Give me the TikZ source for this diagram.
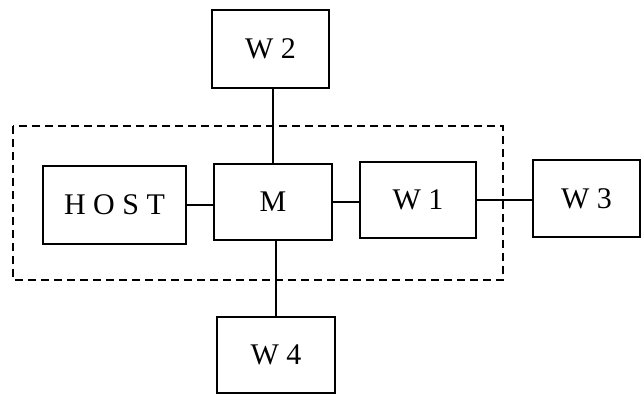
\documentclass[tikz,border=0pt]{standalone}
\usepackage{fontspec}
\setmainfont{Liberation Serif}
\begin{document}
\begin{tikzpicture}[x=1pt,y=-1pt,
  box/.style={draw, line width=1.6pt, inner sep=0pt, font=\fontsize{30}{34}\selectfont},
  link/.style={line width=1.3pt},
  group/.style={draw, line width=1.6pt, dash pattern=on 8pt off 5pt}]
\useasboundingbox (0,0) rectangle (642,395);
\draw[group] (13,126) rectangle (503,280);
\node[box, minimum width=117pt, minimum height=78pt] (W2) at (270.5,49) {W 2};
\node[box, minimum width=143pt, minimum height=78pt] (HOST) at (114.5,205) {H O S T};
\node[box, minimum width=118pt, minimum height=76pt] (M) at (273,202) {M};
\node[box, minimum width=116pt, minimum height=76pt] (W1) at (418,200) {W 1};
\node[box, minimum width=107pt, minimum height=77pt] (W3) at (586.5,198.5) {W 3};
\node[box, minimum width=118pt, minimum height=76pt] (W4) at (276,355) {W 4};
\draw[link] (M.north) -- (M.north |- W2.south);
\draw[link] (W4.north) -- (W4.north |- M.south);
\draw[link] (HOST.east) -- (HOST.east -| M.west);
\draw[link] (M.east) -- (M.east -| W1.west);
\draw[link] (W1.east) -- (W1.east -| W3.west);
\end{tikzpicture}
\end{document}
